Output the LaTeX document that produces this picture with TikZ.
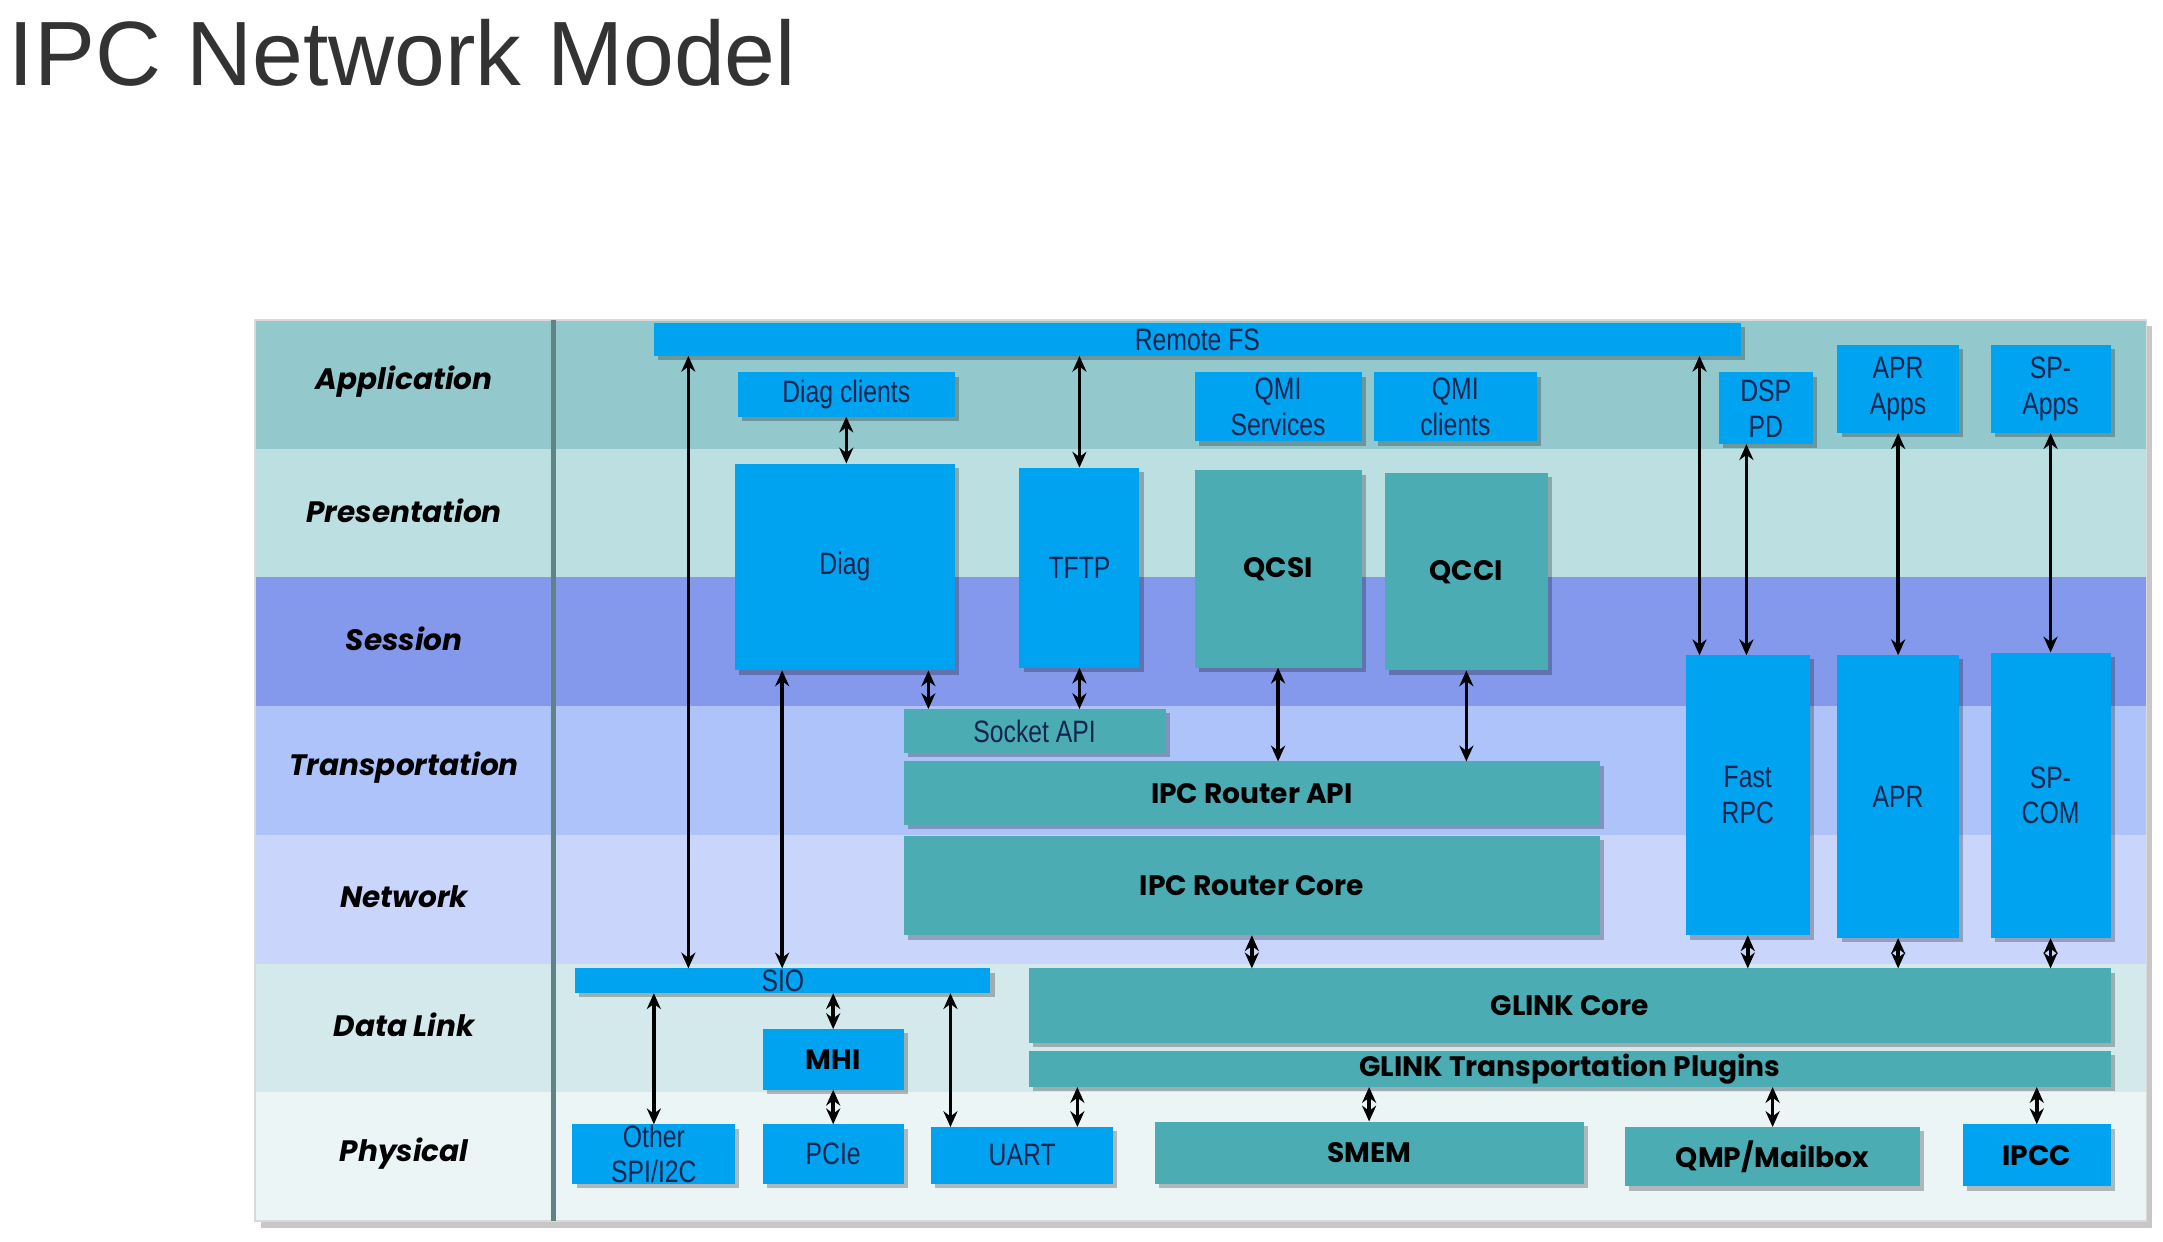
\documentclass[tikz,border=0pt]{standalone}
\usepackage{fontspec}
\setmainfont{Liberation Sans}
\newfontfamily\titlefont{Liberation Sans}
\newfontfamily\narrowfont[FakeStretch=0.8]{Liberation Sans}
\newfontfamily\layerfont{Poppins}
\usetikzlibrary{arrows.meta,shadows}

\definecolor{rowapp}{HTML}{93C9CD}
\definecolor{rowpres}{HTML}{BCDFE2}
\definecolor{rowsess}{HTML}{8499EB}
\definecolor{rowtrans}{HTML}{ADC3FA}
\definecolor{rownet}{HTML}{C9D5FB}
\definecolor{rowdl}{HTML}{D3E9EB}
\definecolor{rowphy}{HTML}{EBF5F6}
\definecolor{boxblue}{HTML}{00A3EF}
\definecolor{boxteal}{HTML}{4BACB4}
\definecolor{boxtext}{HTML}{14254F}

\begin{document}
\begin{tikzpicture}[x=0.13795mm, y=-0.13795mm]
    % --- Dimensions ---
    \def\UnitPx{0.13795mm} % one unit of the grid below
    \def\TabL{185}    % left edge of the table
    \def\TabR{1556}   % right edge of the table
    \def\TabT{232}    % top of the first layer
    \def\RowH{93.3}   % height of one layer
    \def\ColX{401}    % divider behind the layer names

    % --- Styles ---
    \tikzset{
        area/.style n args={4}{
            minimum width={(#3-#1)*\UnitPx},
            minimum height={(#4-#2)*\UnitPx},
            at={({(#1+#3)/2},{(#2+#4)/2})}
        },
        blk/.style={
            inner sep=0pt, outer sep=0pt, align=center,
            drop shadow={shadow xshift=1.2pt, shadow yshift=-1.2pt, fill=black, opacity=0.25}
        },
        blue blk/.style={blk, fill=boxblue, text=boxtext,
            font=\narrowfont\fontsize{8.8}{10.2}\selectfont},
        blue bold/.style={blk, fill=boxblue, text=black,
            font=\layerfont\bfseries\fontsize{8}{9.5}\selectfont},
        teal blk/.style={blk, fill=boxteal, text=black,
            font=\layerfont\bfseries\fontsize{8}{9.5}\selectfont},
        teal thin/.style={blk, fill=boxteal, text=boxtext,
            font=\narrowfont\fontsize{8.8}{10.2}\selectfont},
        link/.style={{Stealth[length=4.5pt,width=4pt]}-{Stealth[length=4.5pt,width=4pt]},
            line width=1pt, black},
        layer text/.style={font=\layerfont\bfseries\itshape\fontsize{8.4}{10}\selectfont}
    }

    \useasboundingbox (0,0) rectangle (1568,900);

    % =========================================================
    % 1. TITLE
    % =========================================================
    \node[font=\titlefont\fontsize{26}{30}\selectfont, text=black!80,
          anchor=base west, inner sep=0pt] (title) at (6,62) {IPC Network Model};

    % =========================================================
    % 2. LAYER BANDS
    % =========================================================
    \fill[black!22] (\TabL+4,\TabT+4) rectangle (\TabR+4,\TabT+7*\RowH+5);
    \foreach \lname/\col [count=\i from 0] in {Application/rowapp, Presentation/rowpres,
        Session/rowsess, Transportation/rowtrans, Network/rownet,
        Data Link/rowdl, Physical/rowphy} {
        \fill[\col] (\TabL,\TabT+\i*\RowH) rectangle (\TabR,\TabT+\i*\RowH+\RowH);
        \node[layer text] (layer\i) at (293,\TabT+\i*\RowH+\RowH/2-2) {\lname};
    }
    \draw[black!15, line width=0.5pt] (\TabL,\TabT) rectangle (\TabR,\TabT+7*\RowH);
    \draw[black!35!rowapp, line width=1.4pt] (\ColX,\TabT) -- (\ColX,\TabT+7*\RowH);

    % =========================================================
    % 3. BLOCKS
    % =========================================================
    % Application
    \node[blue blk, area={474}{234}{1262}{258}] (remotefs) {Remote FS};
    \node[blue blk, area={535}{270}{692}{302}] (diagcl) {Diag clients};
    \node[blue blk, area={866}{270}{987}{320}] (qmisrv) {QMI\\Services};
    \node[blue blk, area={996}{270}{1114}{320}] (qmicl) {QMI\\clients};
    \node[blue blk, area={1246}{270}{1314}{322}] (dsppd) {DSP\\PD};
    \node[blue blk, area={1332}{250}{1420}{314}] (aprapps) {APR\\Apps};
    \node[blue blk, area={1443}{250}{1530}{314}] (spapps) {SP-\\Apps};

    % Presentation / Session
    \node[blue blk, area={533}{336}{692}{486}] (diag) {Diag};
    \node[blue blk, area={739}{339}{826}{484}] (tftp) {TFTP};
    \node[teal blk, area={866}{341}{987}{484}] (qcsi) {QCSI};
    \node[teal blk, area={1004}{343}{1122}{486}] (qcci) {QCCI};
    \node[blue blk, area={1222}{475}{1312}{678}] (fastrpc) {Fast\\RPC};
    \node[blue blk, area={1332}{475}{1420}{680}] (apr) {APR};
    \node[blue blk, area={1443}{473}{1530}{680}] (spcom) {SP-\\COM};

    % Transportation / Network
    \node[teal thin, area={655}{514}{845}{546}] (sockapi) {Socket API};
    \node[teal blk, area={655}{552}{1160}{598}] (rtrapi) {IPC Router API};
    \node[teal blk, area={655}{606}{1160}{678}] (rtrcore) {IPC Router Core};

    % Data Link
    \node[blue blk, area={417}{702}{718}{720}] (sio) {SIO};
    \node[teal blk, area={746}{702}{1530}{756}] (glcore) {GLINK Core};
    \node[teal blk, area={746}{762}{1530}{788}] (glplug) {GLINK Transportation Plugins};
    \node[blue bold, area={553}{746}{655}{790}] (mhi) {MHI};

    % Physical
    \node[blue blk, area={415}{815}{533}{858}] (other) {Other\\SPI/I2C};
    \node[blue blk, area={553}{815}{655}{858}] (pcie) {PCIe};
    \node[blue blk, area={675}{817}{807}{858}] (uart) {UART};
    \node[teal blk, area={837}{813}{1148}{858}] (smem) {SMEM};
    \node[teal blk, area={1178}{817}{1392}{860}] (qmp) {QMP/Mailbox};
    \node[blue bold, area={1423}{815}{1530}{860}] (ipcc) {IPCC};

    % =========================================================
    % 4. CONNECTIONS
    % =========================================================
    \draw[link] (remotefs.south -| 499,0) -- (sio.north -| 499,0);
    \draw[link] (diagcl.south) -- (diag.north -| diagcl.south);
    \draw[link] (remotefs.south -| tftp.north) -- (tftp.north);
    \draw[link] (remotefs.south -| 1232,0) -- (fastrpc.north -| 1232,0);
    \draw[link] (dsppd.south -| 1266,0) -- (fastrpc.north -| 1266,0);
    \draw[link] (aprapps.south) -- (apr.north);
    \draw[link] (spapps.south) -- (spcom.north);

    \draw[link] (diag.south -| 567,0) -- (sio.north -| 567,0);
    \draw[link] (diag.south -| 673,0) -- (sockapi.north -| 673,0);
    \draw[link] (tftp.south) -- (sockapi.north -| tftp.south);
    \draw[link] (qcsi.south) -- (rtrapi.north -| qcsi.south);
    \draw[link] (qcci.south) -- (rtrapi.north -| qcci.south);

    \draw[link] (rtrcore.south) -- (glcore.north -| rtrcore.south);
    \draw[link] (fastrpc.south) -- (glcore.north -| fastrpc.south);
    \draw[link] (apr.south) -- (glcore.north -| apr.south);
    \draw[link] (spcom.south) -- (glcore.north -| spcom.south);

    \draw[link] (sio.south -| other.north) -- (other.north);
    \draw[link] (sio.south -| mhi.north) -- (mhi.north);
    \draw[link] (mhi.south) -- (pcie.north);
    \draw[link] (sio.south -| 689,0) -- (uart.north -| 689,0);
    \draw[link] (glplug.south -| 781,0) -- (uart.north -| 781,0);
    \draw[link] (glplug.south -| smem.north) -- (smem.north);
    \draw[link] (glplug.south -| qmp.north) -- (qmp.north);
    \draw[link] (glplug.south -| ipcc.north) -- (ipcc.north);

\end{tikzpicture}
\end{document}
